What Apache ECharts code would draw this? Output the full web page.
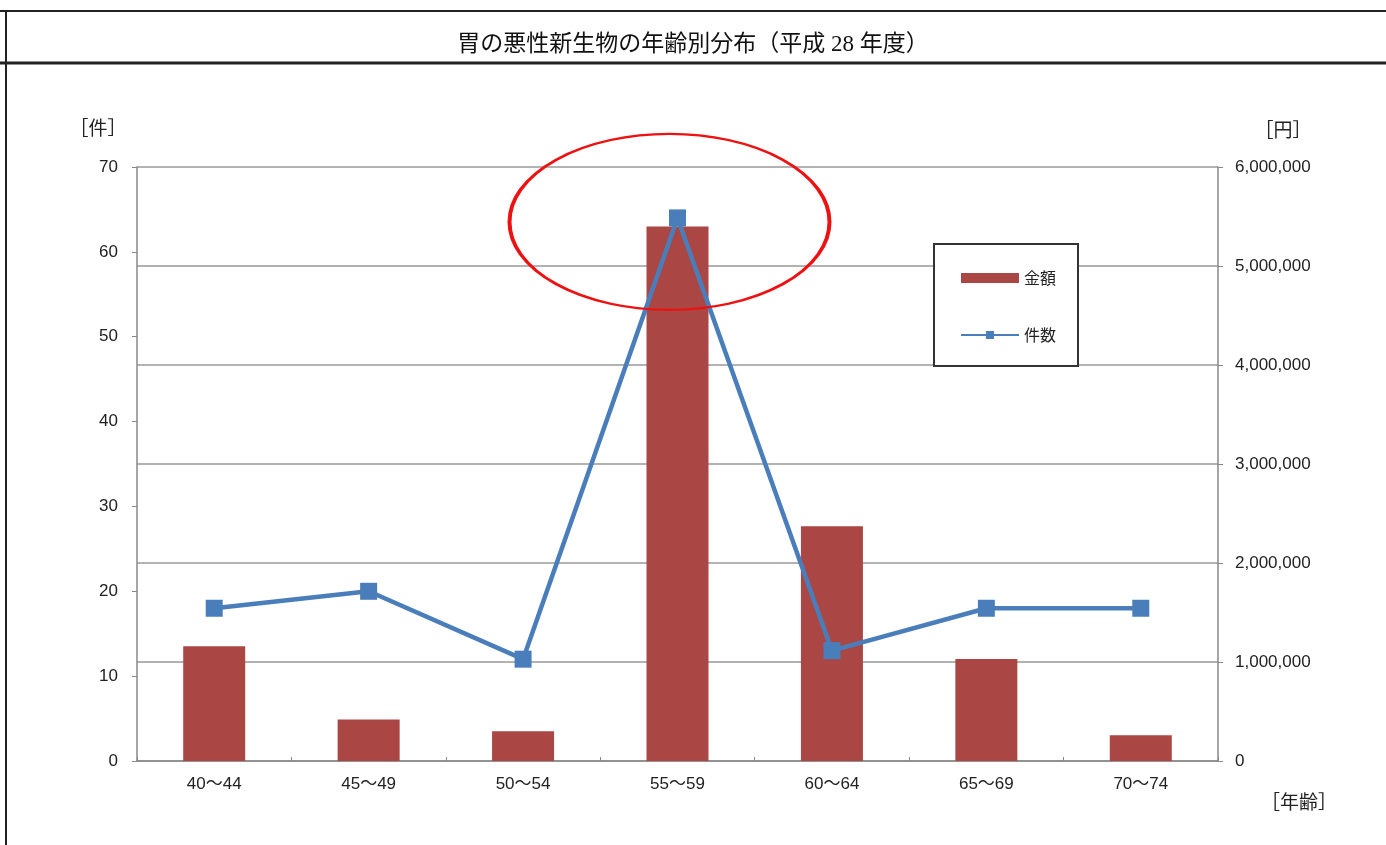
<!DOCTYPE html>
<html><head><meta charset="utf-8">
<script src="https://cdn.jsdelivr.net/npm/echarts@6/dist/echarts.min.js"></script>
<style>html,body{margin:0;padding:0;background:#fff}#c{width:1386px;height:845px}</style>
</head><body><div id="c"></div>
<script>
const categories = ['40～44','45～49','50～54','55～59','60～64','65～69','70～74'];
const amountYen = [1160000, 420000, 300000, 5400000, 2370000, 1030000, 260000];
const caseCount = [18, 20, 12, 64, 13, 18, 18];
const titleText = '胃の悪性新生物の年齢別分布（平成 28 年度）';

const chart = echarts.init(document.getElementById('c'));
const sans = '"Liberation Sans", "Noto Sans CJK JP", sans-serif';
const cjk = '"Noto Sans CJK JP", sans-serif';
const option = {
  animation: false,
  backgroundColor: '#fff',
  title: {
    text: titleText, left: 'center', top: 28,
    textStyle: { fontFamily: 'serif, "Noto Sans CJK JP"', fontSize: 23, fontWeight: 'normal', color: '#111' }
  },
  legend: {
    orient: 'vertical', left: 955, top: 265, itemGap: 41,
    itemWidth: 58, itemHeight: 10, itemTextGap: 4,
    textStyle: { fontFamily: cjk, fontSize: 16, color: '#222' },
    data: [
      { name: '金額', icon: 'rect', itemStyle: { color: '#AA4643' } },
      { name: '件数' }
    ]
  },
  grid: { left: 137, right: 168, top: 167, bottom: 84 },
  xAxis: {
    type: 'category', data: categories,
    axisLine: { lineStyle: { color: '#888', width: 1.5 } },
    axisTick: { show: true, inside: true, length: 4, lineStyle: { color: '#888' } },
    axisLabel: { fontFamily: sans, fontSize: 17, color: '#222', margin: 15 }
  },
  yAxis: [
    {
      type: 'value', min: 0, max: 70, interval: 10, position: 'left',
      axisLine: { show: true, lineStyle: { color: '#888', width: 1.5 } },
      axisTick: { show: true, length: 5, lineStyle: { color: '#888' } },
      axisLabel: { fontFamily: sans, fontSize: 17, color: '#222', margin: 19 },
      splitLine: { show: false }
    },
    {
      type: 'value', min: 0, max: 6000000, interval: 1000000, position: 'right',
      axisLine: { show: true, lineStyle: { color: '#888', width: 1.5 } },
      axisTick: { show: true, length: 5, lineStyle: { color: '#888' } },
      axisLabel: {
        fontFamily: sans, fontSize: 17, color: '#222', margin: 17,
        formatter: v => v.toLocaleString('en-US')
      },
      splitLine: { show: true, lineStyle: { color: '#999', width: 1.5 } }
    }
  ],
  series: [
    {
      name: '金額', type: 'bar', yAxisIndex: 1, data: amountYen,
      barWidth: 62, itemStyle: { color: '#AA4643' }, z: 2
    },
    {
      name: '件数', type: 'line', yAxisIndex: 0, data: caseCount,
      symbol: 'rect', symbolSize: 17,
      lineStyle: { color: '#4A7EBB', width: 4.5 },
      itemStyle: { color: '#4A7EBB' }, z: 3
    }
  ]
};
chart.setOption(option);

const peakIdx = caseCount.indexOf(Math.max(...caseCount));
const peak = chart.convertToPixel({ seriesIndex: 1 }, [peakIdx, caseCount[peakIdx]]);

chart.setOption({
  graphic: [
    { type: 'line', shape: { x1: 0, y1: 11, x2: 1386, y2: 11 }, style: { stroke: '#222', lineWidth: 2 } },
    { type: 'line', shape: { x1: 0, y1: 63, x2: 1386, y2: 63 }, style: { stroke: '#222', lineWidth: 3 } },
    { type: 'line', shape: { x1: 6, y1: 10, x2: 6, y2: 845 }, style: { stroke: '#222', lineWidth: 2 } },
    { type: 'rect', shape: { x: 934, y: 244, width: 144, height: 122 }, style: { fill: '#fff', stroke: '#333', lineWidth: 2 }, z: 0, zlevel: 0 },
    { type: 'text', x: 98, y: 128, style: { text: '［件］', fontFamily: cjk, fontSize: 19, fill: '#222', align: 'center', verticalAlign: 'middle' } },
    { type: 'text', x: 1283, y: 130, style: { text: '［円］', fontFamily: cjk, fontSize: 19, fill: '#222', align: 'center', verticalAlign: 'middle' } },
    { type: 'text', x: 1299, y: 802, style: { text: '［年齢］', fontFamily: cjk, fontSize: 19, fill: '#222', align: 'center', verticalAlign: 'middle' } },
    { type: 'circle', x: peak[0] - 8, y: peak[1] + 4, scaleY: 88 / 160,
      shape: { cx: 0, cy: 0, r: 160 }, style: { fill: 'none', stroke: '#EE1111', lineWidth: 4 }, z: 100 }
  ]
});
</script></body></html>
